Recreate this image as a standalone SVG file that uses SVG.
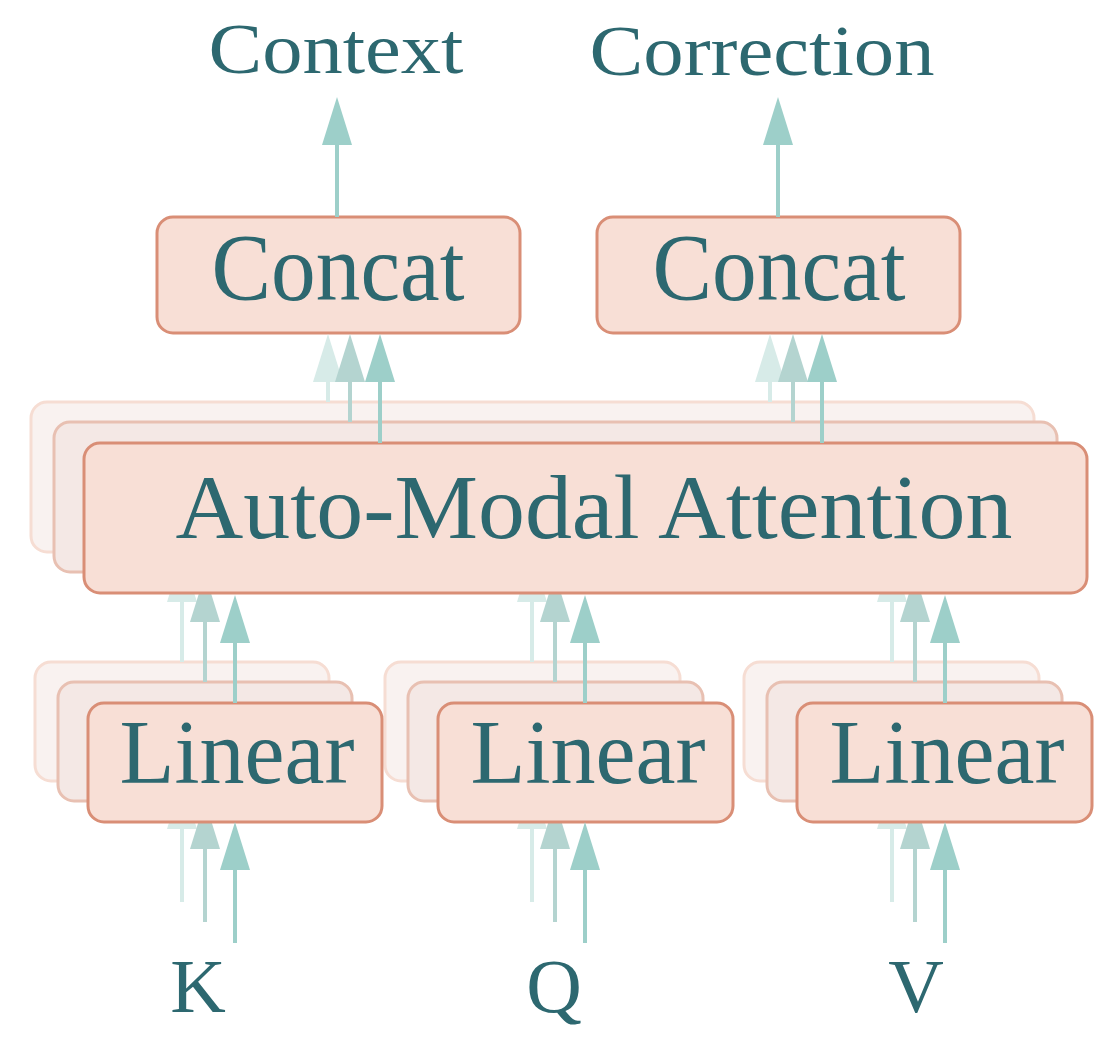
<svg xmlns="http://www.w3.org/2000/svg" width="1113" height="1052" viewBox="0 0 1113 1052">
<style>
  .txt { font-family: "Liberation Serif", "Times New Roman", serif; fill: #2d6870; text-anchor: middle; }
  .box0 { fill: #f8dfd6; stroke: #d98e76; stroke-width: 3; }
  .box1 { fill: #f4e8e5; stroke: #e8c0b2; stroke-width: 3; }
  .box2 { fill: #f9f2f0; stroke: #f6ddd3; stroke-width: 3; }
  .a0 { stroke: #9dcfc9; stroke-width: 4; fill: none; }
  .a1 { stroke: #b4d4d0; stroke-width: 4; fill: none; }
  .a2 { stroke: #d7ebe8; stroke-width: 4; fill: none; }
</style>
<defs>
  <marker id="h0" markerUnits="userSpaceOnUse" viewBox="0 0 48 30" markerWidth="48" markerHeight="30" refX="0" refY="15" orient="auto">
    <path d="M0,0 L48,15 L0,30 Z" fill="#9dcfc9"/>
  </marker>
  <marker id="h1" markerUnits="userSpaceOnUse" viewBox="0 0 48 30" markerWidth="48" markerHeight="30" refX="0" refY="15" orient="auto">
    <path d="M0,0 L48,15 L0,30 Z" fill="#b4d4d0"/>
  </marker>
  <marker id="h2" markerUnits="userSpaceOnUse" viewBox="0 0 48 30" markerWidth="48" markerHeight="30" refX="0" refY="15" orient="auto">
    <path d="M0,0 L48,15 L0,30 Z" fill="#d7ebe8"/>
  </marker>
</defs>
<rect x="0" y="0" width="1113" height="1052" fill="#ffffff"/>

<!-- Back layer (layer 2) -->
<g transform="translate(-53,-41)">
  <g id="attention-back2"><rect class="box2" x="84" y="443" width="1003" height="150" rx="16"/></g>
  <g id="linear-k-back2"><rect class="box2" x="88" y="703" width="294" height="119" rx="16"/></g>
  <g id="linear-q-back2"><rect class="box2" x="438" y="703" width="295" height="119" rx="16"/></g>
  <g id="linear-v-back2"><rect class="box2" x="797" y="703" width="295" height="119" rx="16"/></g>
  <g id="connectors-back2">
    <line class="a2" x1="235" y1="943" x2="235" y2="870" marker-end="url(#h2)"/>
    <line class="a2" x1="585" y1="943" x2="585" y2="870" marker-end="url(#h2)"/>
    <line class="a2" x1="945" y1="943" x2="945" y2="870" marker-end="url(#h2)"/>
    <line class="a2" x1="235" y1="703" x2="235" y2="643" marker-end="url(#h2)"/>
    <line class="a2" x1="585" y1="703" x2="585" y2="643" marker-end="url(#h2)"/>
    <line class="a2" x1="945" y1="703" x2="945" y2="643" marker-end="url(#h2)"/>
  </g>
</g>

<!-- Middle layer (layer 1) -->
<g transform="translate(-30,-21)">
  <g id="attention-back1"><rect class="box1" x="84" y="443" width="1003" height="150" rx="16"/></g>
  <g id="linear-k-back1"><rect class="box1" x="88" y="703" width="294" height="119" rx="16"/></g>
  <g id="linear-q-back1"><rect class="box1" x="438" y="703" width="295" height="119" rx="16"/></g>
  <g id="linear-v-back1"><rect class="box1" x="797" y="703" width="295" height="119" rx="16"/></g>
  <g id="connectors-back1">
    <line class="a1" x1="235" y1="943" x2="235" y2="870" marker-end="url(#h1)"/>
    <line class="a1" x1="585" y1="943" x2="585" y2="870" marker-end="url(#h1)"/>
    <line class="a1" x1="945" y1="943" x2="945" y2="870" marker-end="url(#h1)"/>
    <line class="a1" x1="235" y1="703" x2="235" y2="643" marker-end="url(#h1)"/>
    <line class="a1" x1="585" y1="703" x2="585" y2="643" marker-end="url(#h1)"/>
    <line class="a1" x1="945" y1="703" x2="945" y2="643" marker-end="url(#h1)"/>
  </g>
</g>

<!-- Front layer -->
<g id="attention">
  <rect class="box0" x="84" y="443" width="1003" height="150" rx="16"/>
  <text class="txt" x="594" y="538" font-size="92" textLength="837" lengthAdjust="spacingAndGlyphs">Auto-Modal Attention</text>
</g>
<g id="linear-k"><rect class="box0" x="88" y="703" width="294" height="119" rx="16"/><text class="txt" x="237" y="783" font-size="90" textLength="235" lengthAdjust="spacingAndGlyphs">Linear</text></g>
<g id="linear-q"><rect class="box0" x="438" y="703" width="295" height="119" rx="16"/><text class="txt" x="588" y="783" font-size="90" textLength="235" lengthAdjust="spacingAndGlyphs">Linear</text></g>
<g id="linear-v"><rect class="box0" x="797" y="703" width="295" height="119" rx="16"/><text class="txt" x="947" y="783" font-size="90" textLength="235" lengthAdjust="spacingAndGlyphs">Linear</text></g>

<g id="concat-left"><rect class="box0" x="157" y="217" width="363" height="116" rx="16"/><text class="txt" x="338" y="300" font-size="96" textLength="253" lengthAdjust="spacingAndGlyphs">Concat</text></g>
<g id="concat-right"><rect class="box0" x="597" y="217" width="363" height="116" rx="16"/><text class="txt" x="779" y="300" font-size="96" textLength="253" lengthAdjust="spacingAndGlyphs">Concat</text></g>

<g id="label-context"><text class="txt" x="336" y="73" font-size="72" textLength="255" lengthAdjust="spacingAndGlyphs">Context</text></g>
<g id="label-correction"><text class="txt" x="762" y="75" font-size="72" textLength="345" lengthAdjust="spacingAndGlyphs">Correction</text></g>
<g id="label-k"><text class="txt" x="198" y="1012" font-size="77">K</text></g>
<g id="label-q"><text class="txt" x="554" y="1012" font-size="77">Q</text></g>
<g id="label-v"><text class="txt" x="916" y="1012" font-size="77">V</text></g>

<g id="connectors">
  <line class="a0" x1="235" y1="943" x2="235" y2="870" marker-end="url(#h0)"/>
  <line class="a0" x1="585" y1="943" x2="585" y2="870" marker-end="url(#h0)"/>
  <line class="a0" x1="945" y1="943" x2="945" y2="870" marker-end="url(#h0)"/>
  <line class="a0" x1="235" y1="703" x2="235" y2="643" marker-end="url(#h0)"/>
  <line class="a0" x1="585" y1="703" x2="585" y2="643" marker-end="url(#h0)"/>
  <line class="a0" x1="945" y1="703" x2="945" y2="643" marker-end="url(#h0)"/>
  <line class="a2" x1="328" y1="402" x2="328" y2="382" marker-end="url(#h2)"/>
  <line class="a1" x1="350" y1="422" x2="350" y2="382" marker-end="url(#h1)"/>
  <line class="a0" x1="380" y1="443" x2="380" y2="382" marker-end="url(#h0)"/>
  <line class="a2" x1="770" y1="402" x2="770" y2="382" marker-end="url(#h2)"/>
  <line class="a1" x1="793" y1="422" x2="793" y2="382" marker-end="url(#h1)"/>
  <line class="a0" x1="822" y1="443" x2="822" y2="382" marker-end="url(#h0)"/>
  <line class="a0" x1="337" y1="217" x2="337" y2="145" marker-end="url(#h0)"/>
  <line class="a0" x1="778" y1="217" x2="778" y2="145" marker-end="url(#h0)"/>
</g>
</svg>
